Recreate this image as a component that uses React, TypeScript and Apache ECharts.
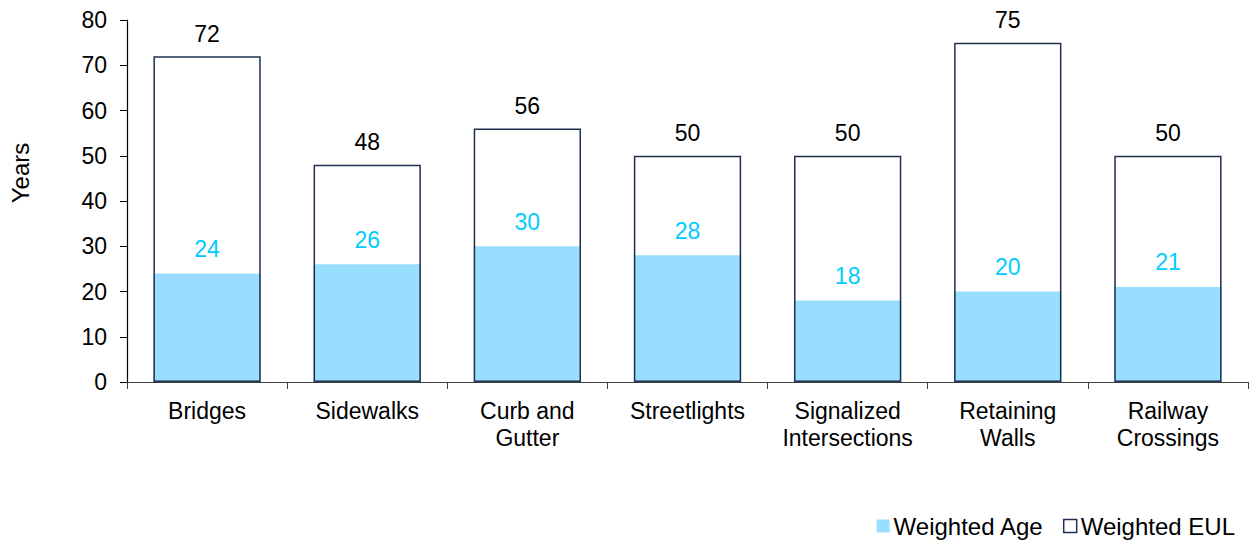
import React, { useEffect, useRef } from "react";
import * as echarts from "echarts";

const categories = [
  "Bridges",
  "Sidewalks",
  "Curb and\nGutter",
  "Streetlights",
  "Signalized\nIntersections",
  "Retaining\nWalls",
  "Railway\nCrossings",
];
const weightedAge = [24, 26, 30, 28, 18, 20, 21];
const weightedEUL = [72, 48, 56, 50, 50, 75, 50];

const FONT = "'Liberation Sans', Arial, sans-serif";
const FS = 23;

export default function App() {
  const ref = useRef<HTMLDivElement>(null);
  useEffect(() => {
    if (!ref.current) return;
    const chart = echarts.init(ref.current, undefined, { renderer: "svg" });
    chart.setOption({
      animation: false,
      textStyle: { fontFamily: FONT },
      grid: { left: 127, right: 1, top: 20, bottom: 158, containLabel: false },
      legend: {
        right: 9,
        bottom: -3,
        itemWidth: 13,
        itemHeight: 13,
        itemGap: 19,
        icon: "rect",
        textStyle: { fontFamily: FONT, fontSize: 24, color: "#000", padding: [0, 0, 0, -1] },
        data: [
          { name: "Weighted Age", itemStyle: { color: "#99DDFF", borderWidth: 0 } },
          { name: "Weighted EUL", itemStyle: { color: "#fff", borderColor: "#1F2F4F", borderWidth: 1.5 } },
        ],
      },
      graphic: [
        {
          type: "text",
          x: 20,
          y: 173,
          rotation: Math.PI / 2,
          style: {
            text: "Years",
            fontFamily: FONT,
            fontSize: 24,
            fill: "#000",
            align: "center",
            verticalAlign: "middle",
          },
        },
      ],
      xAxis: {
        type: "category",
        data: categories,
        boundaryGap: true,
        axisLine: { lineStyle: { color: "#404040", width: 1.2 } },
        axisTick: { show: true, alignWithLabel: false, length: 7, lineStyle: { color: "#404040" } },
        axisLabel: {
          interval: 0,
          margin: 15,
          fontFamily: FONT,
          fontSize: FS,
          color: "#000",
          lineHeight: 27,
        },
      },
      yAxis: {
        type: "value",
        min: 0,
        max: 80,
        interval: 10,
        splitLine: { show: false },
        axisLine: { show: true, lineStyle: { color: "#000", width: 1.2 } },
        axisTick: { show: true, length: 7, lineStyle: { color: "#000" } },
        axisLabel: { fontFamily: FONT, fontSize: FS, color: "#000", margin: 20 },
      },
      series: [
        {
          name: "Weighted Age",
          type: "bar",
          data: weightedAge,
          barWidth: "67%",
          barGap: "-100%",
          itemStyle: { color: "#99DDFF" },
          label: {
            show: true,
            position: "top",
            distance: 13,
            fontFamily: FONT,
            fontSize: FS,
            color: "#00CCFF",
          },
          z: 2,
        },
        {
          name: "Weighted EUL",
          type: "bar",
          data: weightedEUL,
          barWidth: "67%",
          barGap: "-100%",
          itemStyle: { color: "rgba(255,255,255,0)", borderColor: "#1F2F4F", borderWidth: 1.5 },
          label: {
            show: true,
            position: "top",
            distance: 11,
            fontFamily: FONT,
            fontSize: FS,
            color: "#000",
          },
          z: 3,
        },
      ],
    });
    return () => chart.dispose();
  }, []);
  return (
    <div
      ref={ref}
      style={{ position: "fixed", left: 0, top: 0, width: 1249, height: 540, background: "#fff" }}
    />
  );
}
